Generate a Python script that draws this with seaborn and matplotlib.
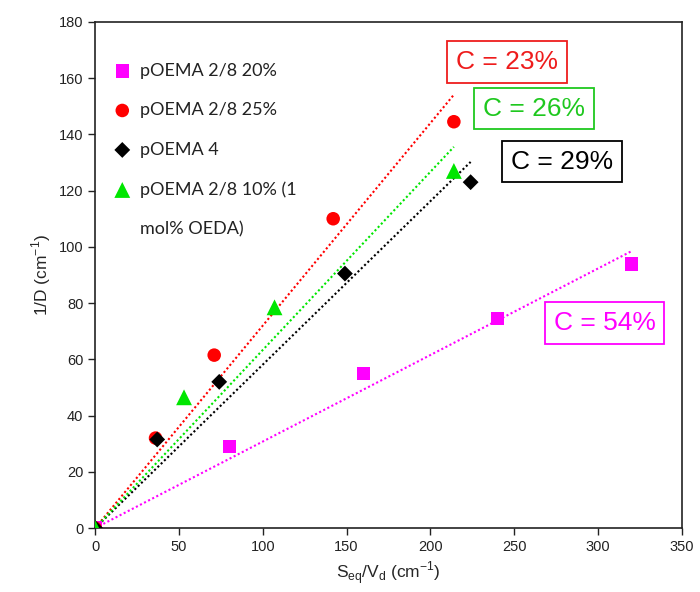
import numpy as np
import pandas as pd
import matplotlib
matplotlib.use("Agg")
import matplotlib.pyplot as plt
from matplotlib.lines import Line2D
import seaborn as sns

# values
labels = ["pOEMA 2/8 20%", "pOEMA 2/8 25%", "pOEMA 4", "pOEMA 2/8 10% (1"]
label_tail = "mol% OEDA)"
x_20 = [0, 80, 160, 240, 320]
y_20 = [0, 29, 55, 74.5, 94]
x_25 = [0, 36, 71, 142, 214]
y_25 = [0, 32, 61.5, 110, 144.5]
x_4 = [0, 37, 74, 149, 224]
y_4 = [0, 31.5, 52, 90.5, 123]
x_10 = [0, 53, 107, 214]
y_10 = [0, 46.5, 78.5, 127]
c_labels = ["C = 54%", "C = 23%", "C = 29%", "C = 26%"]

colors = ["#FF00FF", "#FF0000", "#000000", "#00E600"]
text_colors = ["#FF00FF", "#EE1C1C", "#000000", "#1FC81F"]
markers = ["s", "o", "D", "^"]
sizes = [95, 95, 65, 130]

series = [(x_20, y_20), (x_25, y_25), (x_4, y_4), (x_10, y_10)]
frames = []
for lab, (xs, ys) in zip(labels, series):
    frames.append(pd.DataFrame({"x": xs, "y": ys, "series": lab}))
df = pd.concat(frames, ignore_index=True)

sns.set_style("ticks")
plt.rcParams["font.family"] = ["Liberation Sans", "DejaVu Sans"]

fig = plt.figure(figsize=(7, 5.92), dpi=100)
ax = fig.add_axes([0.136, 0.108, 0.838, 0.855])

# dotted fits through the origin
for (xs, ys), col in zip(series, colors):
    xs = np.array(xs, float)
    ys = np.array(ys, float)
    k = (xs * ys).sum() / (xs * xs).sum()
    xx = np.array([0, xs.max()])
    ax.plot(xx, k * xx, linestyle=(0, (1, 1.2)), color=col, lw=1.5, zorder=1)

for lab, col, m, s in zip(labels, colors, markers, sizes):
    sub = df[df["series"] == lab]
    sns.scatterplot(data=sub, x="x", y="y", color=col, marker=m, s=s,
                    edgecolor="none", label=lab, ax=ax, zorder=3)

ax.set_xlim(0, 350)
ax.set_ylim(0, 180)
ax.set_xticks(np.arange(0, 351, 50))
ax.set_yticks(np.arange(0, 181, 20))
ax.tick_params(labelsize=10.5, direction="out", length=5, width=1, colors="#222222")
for sp in ax.spines.values():
    sp.set_linewidth(1.2)
    sp.set_color("#222222")

ax.set_xlabel(r"S$_{\mathregular{eq}}$/V$_{\mathregular{d}}$ (cm$^{\mathregular{-1}}$)", fontsize=12.5)
ax.set_ylabel(r"1/D (cm$^{\mathregular{-1}}$)", fontsize=12.5)

handles, leg_labels = ax.get_legend_handles_labels()
handles.append(Line2D([], [], linestyle="none", marker=None))
leg_labels.append(label_tail)
leg = ax.legend(handles, leg_labels, loc="upper left", frameon=False, fontsize=13,
                labelspacing=1.3, handlelength=1.0, handletextpad=0.5,
                borderaxespad=0.6, bbox_to_anchor=(0.0, 0.955))
for t in leg.get_texts():
    t.set_family(["Lato", "DejaVu Sans"])
    t.set_color("#222222")

# C value boxes
pos = [(304, 72.9), (245.7, 165.8), (278.5, 130.3), (261.8, 149.2)]
for txt, (px, py), tc in zip(c_labels, pos, text_colors):
    ax.text(px, py, txt, color=tc, fontsize=19, ha="center", va="center", zorder=5,
            bbox=dict(boxstyle="square,pad=0.33", fc="white", ec=tc, lw=1.3))

plt.savefig("out.png", dpi=100)
plt.close(fig)
